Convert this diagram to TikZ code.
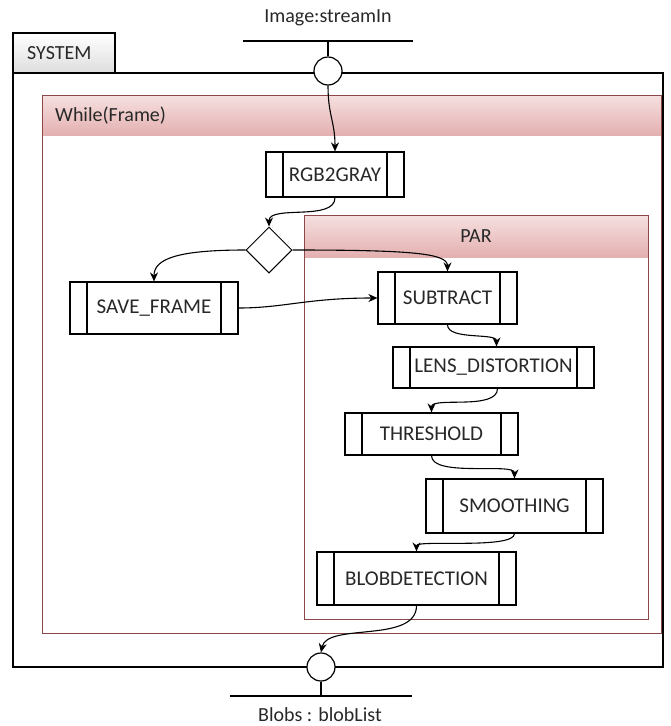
\documentclass[tikz,border=0pt]{standalone}
\usepackage{fontspec}
\setmainfont{Carlito}
\usetikzlibrary{arrows.meta,shapes.geometric,calc}

\definecolor{framered}{RGB}{140,72,72}
\definecolor{headtop}{RGB}{246,224,224}
\definecolor{headbot}{RGB}{228,176,176}
\definecolor{inktext}{RGB}{40,40,40}

\tikzset{
  lbl/.style={font=\fontsize{20}{24}\selectfont, text=inktext, inner sep=0pt},
  procbox/.style={draw, line width=1.2pt, fill=white, inner sep=0pt,
    font=\fontsize{21}{25}\selectfont, text=inktext,
    path picture={
      \draw[line width=1.1pt]
        ([xshift=17pt]path picture bounding box.north west) --
        ([xshift=17pt]path picture bounding box.south west)
        ([xshift=-17pt]path picture bounding box.north east) --
        ([xshift=-17pt]path picture bounding box.south east);
    }},
  port/.style={circle, draw, line width=1.2pt, fill=white, minimum size=28pt, inner sep=0pt},
  decide/.style={diamond, draw, line width=1pt, fill=white, minimum width=46pt, minimum height=46pt, inner sep=0pt},
  flow/.style={line width=1.1pt, -{Stealth[length=9pt,width=8pt]}},
  region/.style={draw=framered, line width=1pt},
}

\begin{document}
\begin{tikzpicture}[x=1pt,y=-1pt]
\useasboundingbox (0,0) rectangle (671,726);

% outer system frame with its tab
\draw[line width=1.2pt, top color=white, bottom color=black!13] (13,33) rectangle (115,73);
\node[lbl, anchor=west] (systitle) at (27,53) {SYSTEM};
\draw[line width=1.2pt] (13,73) rectangle (663,667);

% loop region
\shade[top color=headtop, bottom color=headbot] (42,95) rectangle (661,135);
\draw[region] (42,95) rectangle (661,633);
\node[lbl, anchor=west] (looptitle) at (55,116) {While(Frame)};

% parallel region
\shade[top color=headtop, bottom color=headbot] (304,215) rectangle (648,257);
\draw[region] (304,215) rectangle (648,619);
\node[lbl] (partitle) at (476,236) {PAR};

% input port
\node[lbl] (inlabel) at (328,18) {Image:streamIn};
\draw[line width=1.2pt] (243,41) -- (413,41);
\coordinate (inbar) at (328,41);
\node[port] (incirc) at (328,71) {};
\draw[line width=1.2pt] (inbar) -- (incirc.north);

% output port
\node[port] (outcirc) at (321,667) {};
\draw[line width=1.2pt] (230,696) -- (412,696);
\coordinate (outbar) at (321,696);
\draw[line width=1.2pt] (outcirc.south) -- (outbar);
\node[lbl, anchor=base] (outlabel) at (320,721) {Blobs : blobList};

% processing steps
\node[procbox, minimum width=138pt, minimum height=45pt] (rgb)  at (335,174.5) {RGB2GRAY};
\node[decide] (dec) at (269,250) {};
\node[procbox, minimum width=168pt, minimum height=52pt] (save) at (154,308) {SAVE\_FRAME};
\node[procbox, minimum width=139pt, minimum height=52pt] (sub)  at (447.5,298) {SUBTRACT};
\node[procbox, minimum width=201pt, minimum height=41pt] (lens) at (493.5,367.5) {LENS\_DISTORTION};
\node[procbox, minimum width=173pt, minimum height=42pt] (thr)  at (431.5,434) {THRESHOLD};
\node[procbox, minimum width=177pt, minimum height=54pt] (smo)  at (514.5,506) {SMOOTHING};
\node[procbox, minimum width=199pt, minimum height=53pt] (blob) at (416.5,578.5) {BLOBDETECTION};

% control and data flow
\draw[flow] (incirc.south) .. controls +(0,30) and +(0,-30) .. (rgb.north);
\draw[flow] (rgb.south) .. controls +(0,24) and +(0,-22) .. (dec.north);
\draw[flow] (dec.west) .. controls +(-70,0) and +(0,-22) .. (save.north);
\draw[flow] (dec.east) .. controls +(120,0) and +(0,-18) .. (sub.north);
\draw[flow] (save.east) .. controls +(45,0) and +(-70,0) .. (sub.west);
\draw[flow] (sub.south) .. controls +(0,16) and +(0,-14) .. ([xshift=3pt]lens.north);
\draw[flow] ([xshift=4pt]lens.south) .. controls +(0,22) and +(0,-16) .. (thr.north);
\draw[flow] (thr.south) .. controls +(0,22) and +(0,-16) .. (smo.north);
\draw[flow] (smo.south) .. controls +(0,16) and +(0,-12) .. (blob.north);
\draw[flow] (blob.south) .. controls +(0,38) and +(6,-30) .. (outcirc.north);
\end{tikzpicture}
\end{document}
